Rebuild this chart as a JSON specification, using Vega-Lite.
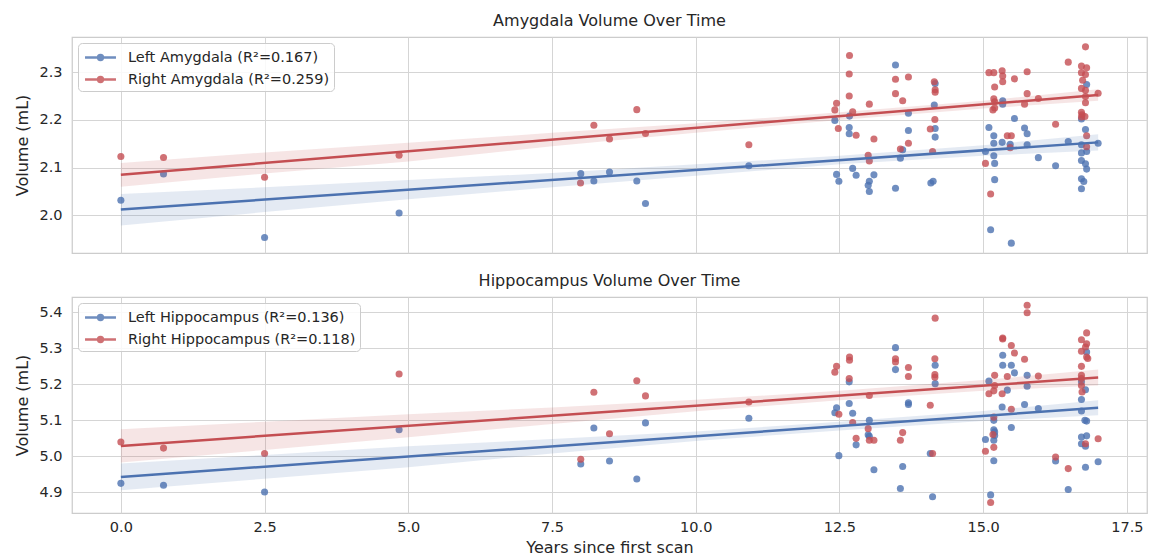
{
  "$schema": "https://vega.github.io/schema/vega-lite/v6.json",
  "background": "white",
  "padding": {"left": 14, "top": 12, "right": 2, "bottom": 2},
  "config": {
    "font": "DejaVu Sans",
    "view": {"stroke": "#cccccc", "strokeWidth": 1.25},
    "axis": {"gridColor": "#d5d5d5", "gridWidth": 1, "domain": false, "ticks": false, "labelColor": "#262626", "titleColor": "#262626", "labelFontSize": 14.5, "titleFontSize": 16, "titleFontWeight": "normal", "labelFont": "DejaVu Sans", "titleFont": "DejaVu Sans"},
    "axisY": {"labelPadding": 10, "titlePadding": 8},
    "axisX": {"labelPadding": 7, "titlePadding": 6},
    "title": {"fontSize": 16, "fontWeight": "normal", "color": "#262626", "offset": 8, "font": "DejaVu Sans"},
    "legend": {"orient": "top-left", "offset": 6, "padding": 4, "fillColor": "rgba(255,255,255,0.85)", "strokeColor": "#cccccc", "cornerRadius": 4, "labelFontSize": 14.5, "labelLimit": 600, "labelColor": "#262626", "labelFont": "DejaVu Sans", "symbolSize": 324, "symbolOffset": 8, "labelOffset": 17, "rowPadding": 4, "symbolType": "M-1.72,0H1.72M-0.27,0A0.27,0.27,0,1,0,0.27,0A0.27,0.27,0,1,0,-0.27,0", "symbolStrokeWidth": 2.5},
    "concat": {"spacing": 18}
  },
  "datasets": {
    "amyg": [
      {"s":"L","t":0,"v":2.032},{"s":"L","t":0.742,"v":2.087},{"s":"L","t":2.5,"v":1.954},{"s":"L","t":4.84,"v":2.005},
      {"s":"L","t":8.0,"v":2.0875},{"s":"L","t":8.228,"v":2.072},{"s":"L","t":8.5,"v":2.091},{"s":"L","t":8.975,"v":2.072},{"s":"L","t":9.126,"v":2.025},{"s":"L","t":10.924,"v":2.104},
      {"s":"L","t":13.475,"v":2.315},{"s":"L","t":14.165,"v":2.276},{"s":"L","t":14.15,"v":2.231},{"s":"L","t":12.42,"v":2.199},{"s":"L","t":12.675,"v":2.208},{"s":"L","t":13.7,"v":2.214},{"s":"L","t":12.67,"v":2.184},{"s":"L","t":12.67,"v":2.171},{"s":"L","t":13.7,"v":2.178},{"s":"L","t":14.165,"v":2.182},{"s":"L","t":14.165,"v":2.164},{"s":"L","t":13.6,"v":2.1375},{"s":"L","t":13.56,"v":2.12},{"s":"L","t":12.45,"v":2.086},{"s":"L","t":12.49,"v":2.0715},{"s":"L","t":12.73,"v":2.0985},{"s":"L","t":12.79,"v":2.084},{"s":"L","t":13.1,"v":2.085},{"s":"L","t":13.02,"v":2.0715},{"s":"L","t":13.0,"v":2.063},{"s":"L","t":13.02,"v":2.05},{"s":"L","t":13.475,"v":2.057},{"s":"L","t":14.09,"v":2.068},{"s":"L","t":14.13,"v":2.0715},
      {"s":"L","t":15.34,"v":2.24},{"s":"L","t":15.34,"v":2.233},{"s":"L","t":15.545,"v":2.203},{"s":"L","t":15.1,"v":2.184},{"s":"L","t":15.72,"v":2.183},{"s":"L","t":15.765,"v":2.171},{"s":"L","t":15.185,"v":2.167},{"s":"L","t":15.185,"v":2.151},{"s":"L","t":15.33,"v":2.153},{"s":"L","t":15.47,"v":2.149},{"s":"L","t":15.765,"v":2.148},{"s":"L","t":15.04,"v":2.134},{"s":"L","t":15.185,"v":2.125},{"s":"L","t":15.2,"v":2.109},{"s":"L","t":15.96,"v":2.121},{"s":"L","t":16.26,"v":2.104},{"s":"L","t":15.2,"v":2.075},{"s":"L","t":15.13,"v":1.97},{"s":"L","t":15.49,"v":1.942},
      {"s":"L","t":16.8,"v":2.274},{"s":"L","t":16.71,"v":2.202},{"s":"L","t":16.78,"v":2.18},{"s":"L","t":16.48,"v":2.155},{"s":"L","t":17.0,"v":2.151},{"s":"L","t":16.71,"v":2.148},{"s":"L","t":16.8,"v":2.134},{"s":"L","t":16.71,"v":2.131},{"s":"L","t":16.71,"v":2.115},{"s":"L","t":16.78,"v":2.108},{"s":"L","t":16.8,"v":2.097},{"s":"L","t":16.71,"v":2.077},{"s":"L","t":16.75,"v":2.071},{"s":"L","t":16.71,"v":2.056},
      {"s":"R","t":0,"v":2.1235},{"s":"R","t":0.742,"v":2.1215},{"s":"R","t":2.5,"v":2.08},{"s":"R","t":4.84,"v":2.126},
      {"s":"R","t":8.228,"v":2.189},{"s":"R","t":8.975,"v":2.2215},{"s":"R","t":8.5,"v":2.16},{"s":"R","t":9.126,"v":2.1715},{"s":"R","t":7.996,"v":2.068},{"s":"R","t":10.924,"v":2.148},
      {"s":"R","t":12.675,"v":2.335},{"s":"R","t":12.67,"v":2.296},{"s":"R","t":12.67,"v":2.25},{"s":"R","t":12.45,"v":2.235},{"s":"R","t":12.42,"v":2.221},{"s":"R","t":12.73,"v":2.217},{"s":"R","t":12.48,"v":2.182},{"s":"R","t":12.79,"v":2.168},{"s":"R","t":13.02,"v":2.233},{"s":"R","t":13.1,"v":2.16},{"s":"R","t":13.0,"v":2.126},{"s":"R","t":13.02,"v":2.114},{"s":"R","t":13.475,"v":2.285},{"s":"R","t":13.7,"v":2.29},{"s":"R","t":13.475,"v":2.255},{"s":"R","t":13.6,"v":2.24},{"s":"R","t":13.7,"v":2.151},{"s":"R","t":13.56,"v":2.139},{"s":"R","t":14.15,"v":2.28},{"s":"R","t":14.165,"v":2.263},{"s":"R","t":14.165,"v":2.258},{"s":"R","t":14.16,"v":2.201},{"s":"R","t":14.08,"v":2.181},{"s":"R","t":14.12,"v":2.134},
      {"s":"R","t":15.1,"v":2.299},{"s":"R","t":15.185,"v":2.299},{"s":"R","t":15.33,"v":2.303},{"s":"R","t":15.34,"v":2.292},{"s":"R","t":15.34,"v":2.28},{"s":"R","t":15.765,"v":2.301},{"s":"R","t":15.545,"v":2.286},{"s":"R","t":15.2,"v":2.269},{"s":"R","t":15.765,"v":2.255},{"s":"R","t":15.185,"v":2.244},{"s":"R","t":15.2,"v":2.238},{"s":"R","t":15.96,"v":2.245},{"s":"R","t":15.72,"v":2.233},{"s":"R","t":15.17,"v":2.221},{"s":"R","t":15.2,"v":2.225},{"s":"R","t":16.26,"v":2.191},{"s":"R","t":15.42,"v":2.167},{"s":"R","t":15.49,"v":2.167},{"s":"R","t":15.47,"v":2.142},{"s":"R","t":15.04,"v":2.109},{"s":"R","t":15.13,"v":2.045},
      {"s":"R","t":16.78,"v":2.353},{"s":"R","t":16.48,"v":2.321},{"s":"R","t":16.71,"v":2.313},{"s":"R","t":16.8,"v":2.309},{"s":"R","t":16.71,"v":2.299},{"s":"R","t":16.78,"v":2.295},{"s":"R","t":16.73,"v":2.283},{"s":"R","t":16.71,"v":2.266},{"s":"R","t":16.78,"v":2.262},{"s":"R","t":17.0,"v":2.256},{"s":"R","t":16.78,"v":2.249},{"s":"R","t":16.78,"v":2.236},{"s":"R","t":16.71,"v":2.216},{"s":"R","t":16.72,"v":2.211},{"s":"R","t":16.77,"v":2.207},{"s":"R","t":16.71,"v":2.206},{"s":"R","t":16.8,"v":2.167},{"s":"R","t":16.8,"v":2.144}
    ],
    "hipp": [
      {"s":"L","t":0,"v":4.924},{"s":"L","t":0.742,"v":4.919},{"s":"L","t":2.5,"v":4.9},{"s":"L","t":4.84,"v":5.073},
      {"s":"L","t":8.0,"v":4.978},{"s":"L","t":8.228,"v":5.078},{"s":"L","t":8.5,"v":4.986},{"s":"L","t":8.975,"v":4.936},{"s":"L","t":9.126,"v":5.092},{"s":"L","t":10.924,"v":5.105},
      {"s":"L","t":13.475,"v":5.301},{"s":"L","t":13.475,"v":5.24},{"s":"L","t":14.165,"v":5.252},{"s":"L","t":14.165,"v":5.201},{"s":"L","t":12.67,"v":5.206},{"s":"L","t":12.67,"v":5.146},{"s":"L","t":13.7,"v":5.148},{"s":"L","t":13.7,"v":5.143},{"s":"L","t":12.45,"v":5.134},{"s":"L","t":12.42,"v":5.12},{"s":"L","t":12.73,"v":5.119},{"s":"L","t":13.02,"v":5.099},{"s":"L","t":13.0,"v":5.059},{"s":"L","t":13.02,"v":5.055},{"s":"L","t":12.79,"v":5.031},{"s":"L","t":12.49,"v":5.001},{"s":"L","t":14.08,"v":5.007},{"s":"L","t":13.1,"v":4.962},{"s":"L","t":13.6,"v":4.971},{"s":"L","t":13.56,"v":4.91},{"s":"L","t":14.12,"v":4.887},
      {"s":"L","t":15.34,"v":5.28},{"s":"L","t":15.34,"v":5.252},{"s":"L","t":15.49,"v":5.252},{"s":"L","t":15.545,"v":5.231},{"s":"L","t":15.765,"v":5.224},{"s":"L","t":15.1,"v":5.208},{"s":"L","t":15.765,"v":5.194},{"s":"L","t":15.42,"v":5.183},{"s":"L","t":15.33,"v":5.136},{"s":"L","t":15.72,"v":5.143},{"s":"L","t":15.96,"v":5.132},{"s":"L","t":15.185,"v":5.099},{"s":"L","t":15.49,"v":5.079},{"s":"L","t":15.185,"v":5.073},{"s":"L","t":15.2,"v":5.067},{"s":"L","t":15.2,"v":5.057},{"s":"L","t":15.04,"v":5.046},{"s":"L","t":15.185,"v":5.044},{"s":"L","t":15.185,"v":4.987},{"s":"L","t":16.26,"v":4.986},{"s":"L","t":15.13,"v":4.892},
      {"s":"L","t":16.8,"v":5.289},{"s":"L","t":16.71,"v":5.206},{"s":"L","t":16.78,"v":5.184},{"s":"L","t":16.71,"v":5.157},{"s":"L","t":16.71,"v":5.125},{"s":"L","t":16.77,"v":5.099},{"s":"L","t":16.8,"v":5.097},{"s":"L","t":16.71,"v":5.053},{"s":"L","t":16.8,"v":5.056},{"s":"L","t":16.71,"v":5.034},{"s":"L","t":16.78,"v":5.027},{"s":"L","t":16.48,"v":4.907},{"s":"L","t":16.78,"v":4.969},{"s":"L","t":17.0,"v":4.984},
      {"s":"R","t":0,"v":5.039},{"s":"R","t":0.742,"v":5.022},{"s":"R","t":2.5,"v":5.007},{"s":"R","t":4.84,"v":5.228},
      {"s":"R","t":8.228,"v":5.177},{"s":"R","t":8.975,"v":5.209},{"s":"R","t":9.126,"v":5.167},{"s":"R","t":8.5,"v":5.062},{"s":"R","t":8.0,"v":4.991},{"s":"R","t":10.924,"v":5.15},
      {"s":"R","t":14.165,"v":5.383},{"s":"R","t":12.675,"v":5.275},{"s":"R","t":12.675,"v":5.266},{"s":"R","t":12.45,"v":5.249},{"s":"R","t":12.42,"v":5.233},{"s":"R","t":12.67,"v":5.215},{"s":"R","t":13.475,"v":5.27},{"s":"R","t":13.475,"v":5.261},{"s":"R","t":13.7,"v":5.246},{"s":"R","t":13.7,"v":5.221},{"s":"R","t":14.16,"v":5.27},{"s":"R","t":14.16,"v":5.226},{"s":"R","t":14.16,"v":5.219},{"s":"R","t":13.02,"v":5.168},{"s":"R","t":14.08,"v":5.141},{"s":"R","t":12.49,"v":5.116},{"s":"R","t":12.73,"v":5.093},{"s":"R","t":13.0,"v":5.076},{"s":"R","t":12.79,"v":5.049},{"s":"R","t":13.02,"v":5.044},{"s":"R","t":13.1,"v":5.044},{"s":"R","t":13.6,"v":5.065},{"s":"R","t":13.56,"v":5.044},{"s":"R","t":14.12,"v":5.007},
      {"s":"R","t":15.765,"v":5.4186},{"s":"R","t":15.765,"v":5.398},{"s":"R","t":15.34,"v":5.328},{"s":"R","t":15.34,"v":5.325},{"s":"R","t":15.49,"v":5.307},{"s":"R","t":15.545,"v":5.286},{"s":"R","t":15.72,"v":5.269},{"s":"R","t":15.2,"v":5.224},{"s":"R","t":15.42,"v":5.221},{"s":"R","t":15.96,"v":5.222},{"s":"R","t":15.2,"v":5.196},{"s":"R","t":15.1,"v":5.173},{"s":"R","t":15.185,"v":5.181},{"s":"R","t":15.33,"v":5.173},{"s":"R","t":15.49,"v":5.13},{"s":"R","t":15.185,"v":5.108},{"s":"R","t":15.17,"v":5.06},{"s":"R","t":15.04,"v":5.013},{"s":"R","t":15.185,"v":5.024},{"s":"R","t":16.26,"v":4.997},{"s":"R","t":15.13,"v":4.871},
      {"s":"R","t":16.8,"v":5.342},{"s":"R","t":16.71,"v":5.323},{"s":"R","t":16.8,"v":5.312},{"s":"R","t":16.78,"v":5.303},{"s":"R","t":16.71,"v":5.291},{"s":"R","t":16.8,"v":5.275},{"s":"R","t":16.82,"v":5.271},{"s":"R","t":16.71,"v":5.249},{"s":"R","t":16.71,"v":5.224},{"s":"R","t":16.71,"v":5.215},{"s":"R","t":16.71,"v":5.196},{"s":"R","t":16.72,"v":5.178},{"s":"R","t":16.78,"v":5.034},{"s":"R","t":17.0,"v":5.048},{"s":"R","t":16.48,"v":4.965}
    ],
    "amygBand": [
      {"s":"L","t":0,"lo":1.979,"hi":2.045},{"s":"L","t":2.5,"lo":2.007,"hi":2.059},{"s":"L","t":5,"lo":2.034,"hi":2.074},{"s":"L","t":7.5,"lo":2.059,"hi":2.089},{"s":"L","t":10,"lo":2.083,"hi":2.107},{"s":"L","t":12.5,"lo":2.107,"hi":2.125},{"s":"L","t":15,"lo":2.125,"hi":2.147},{"s":"L","t":17,"lo":2.136,"hi":2.17},
      {"s":"R","t":0,"lo":2.06,"hi":2.11},{"s":"R","t":2.5,"lo":2.088,"hi":2.132},{"s":"R","t":5,"lo":2.113,"hi":2.152},{"s":"R","t":7.5,"lo":2.145,"hi":2.173},{"s":"R","t":10,"lo":2.173,"hi":2.193},{"s":"R","t":12.5,"lo":2.2,"hi":2.216},{"s":"R","t":15,"lo":2.224,"hi":2.24},{"s":"R","t":17,"lo":2.24,"hi":2.264}
    ],
    "hippBand": [
      {"s":"L","t":0,"lo":4.905,"hi":4.979},{"s":"L","t":2.5,"lo":4.937,"hi":5.003},{"s":"L","t":5,"lo":4.969,"hi":5.027},{"s":"L","t":7.5,"lo":5.007,"hi":5.047},{"s":"L","t":10,"lo":5.042,"hi":5.068},{"s":"L","t":12.5,"lo":5.071,"hi":5.095},{"s":"L","t":15,"lo":5.097,"hi":5.125},{"s":"L","t":17,"lo":5.113,"hi":5.155},
      {"s":"R","t":0,"lo":4.982,"hi":5.074},{"s":"R","t":2.5,"lo":5.017,"hi":5.095},{"s":"R","t":5,"lo":5.052,"hi":5.116},{"s":"R","t":7.5,"lo":5.089,"hi":5.135},{"s":"R","t":10,"lo":5.124,"hi":5.156},{"s":"R","t":12.5,"lo":5.155,"hi":5.181},{"s":"R","t":15,"lo":5.181,"hi":5.211},{"s":"R","t":17,"lo":5.196,"hi":5.24}
    ],
    "amygLine": [
      {"s":"L","t":0,"m":2.0125},{"s":"L","t":17,"m":2.153},{"s":"R","t":0,"m":2.0854},{"s":"R","t":17,"m":2.252}
    ],
    "hippLine": [
      {"s":"L","t":0,"m":4.942},{"s":"L","t":17,"m":5.134},{"s":"R","t":0,"m":5.028},{"s":"R","t":17,"m":5.218}
    ]
  },
  "resolve": {"scale": {"color": "independent"}, "legend": {"color": "independent"}},
  "vconcat": [
    {
      "title": "Amygdala Volume Over Time",
      "width": 1075,
      "height": 216,
      "layer": [
        {
          "data": {"name": "amyg"},
          "mark": {"type": "point", "filled": true, "size": 50, "opacity": 0.8},
          "encoding": {
            "x": {"field": "t", "type": "quantitative", "scale": {"domain": [-0.85, 17.85], "nice": false, "zero": false}, "axis": {"labels": false, "title": null, "values": [0, 2.5, 5, 7.5, 10, 12.5, 15, 17.5]}},
            "y": {"field": "v", "type": "quantitative", "scale": {"domain": [1.9214, 2.3736], "nice": false, "zero": false}, "axis": {"title": "Volume (mL)", "values": [2.0, 2.1, 2.2, 2.3], "format": ".1f"}},
            "color": {"field": "s", "type": "nominal", "scale": {"domain": ["L", "R"], "range": ["#4c72b0", "#c44e52"]},
              "legend": {"title": null, "labelExpr": "datum.value == 'L' ? 'Left Amygdala (R²=0.167)' : 'Right Amygdala (R²=0.259)'",
                "encode": {"symbols": {"update": {"fill": {"signal": "datum.value == 'L' ? '#4c72b0' : '#c44e52'"}, "stroke": {"signal": "datum.value == 'L' ? '#4c72b0' : '#c44e52'"}, "strokeWidth": {"value": 2.5}, "opacity": {"value": 1}}}}}}
          }
        },
        {
          "data": {"name": "amygBand"},
          "mark": {"type": "area", "fillOpacity": 0.15},
          "encoding": {
            "x": {"field": "t", "type": "quantitative"},
            "y": {"field": "lo", "type": "quantitative"},
            "y2": {"field": "hi"},
            "color": {"field": "s", "type": "nominal", "legend": null}
          }
        },
        {
          "data": {"name": "amygLine"},
          "mark": {"type": "line", "strokeWidth": 2.5},
          "encoding": {
            "x": {"field": "t", "type": "quantitative"},
            "y": {"field": "m", "type": "quantitative"},
            "color": {"field": "s", "type": "nominal", "legend": null}
          }
        }
      ]
    },
    {
      "title": "Hippocampus Volume Over Time",
      "width": 1075,
      "height": 216,
      "layer": [
        {
          "data": {"name": "hipp"},
          "mark": {"type": "point", "filled": true, "size": 50, "opacity": 0.8},
          "encoding": {
            "x": {"field": "t", "type": "quantitative", "scale": {"domain": [-0.85, 17.85], "nice": false, "zero": false}, "axis": {"title": "Years since first scan", "values": [0, 2.5, 5, 7.5, 10, 12.5, 15, 17.5], "format": ".1f"}},
            "y": {"field": "v", "type": "quantitative", "scale": {"domain": [4.8417, 5.4417], "nice": false, "zero": false}, "axis": {"title": "Volume (mL)", "values": [4.9, 5.0, 5.1, 5.2, 5.3, 5.4], "format": ".1f"}},
            "color": {"field": "s", "type": "nominal", "scale": {"domain": ["L", "R"], "range": ["#4c72b0", "#c44e52"]},
              "legend": {"title": null, "labelExpr": "datum.value == 'L' ? 'Left Hippocampus (R²=0.136)' : 'Right Hippocampus (R²=0.118)'",
                "encode": {"symbols": {"update": {"fill": {"signal": "datum.value == 'L' ? '#4c72b0' : '#c44e52'"}, "stroke": {"signal": "datum.value == 'L' ? '#4c72b0' : '#c44e52'"}, "strokeWidth": {"value": 2.5}, "opacity": {"value": 1}}}}}}
          }
        },
        {
          "data": {"name": "hippBand"},
          "mark": {"type": "area", "fillOpacity": 0.15},
          "encoding": {
            "x": {"field": "t", "type": "quantitative"},
            "y": {"field": "lo", "type": "quantitative"},
            "y2": {"field": "hi"},
            "color": {"field": "s", "type": "nominal", "legend": null}
          }
        },
        {
          "data": {"name": "hippLine"},
          "mark": {"type": "line", "strokeWidth": 2.5},
          "encoding": {
            "x": {"field": "t", "type": "quantitative"},
            "y": {"field": "m", "type": "quantitative"},
            "color": {"field": "s", "type": "nominal", "legend": null}
          }
        }
      ]
    }
  ]
}
